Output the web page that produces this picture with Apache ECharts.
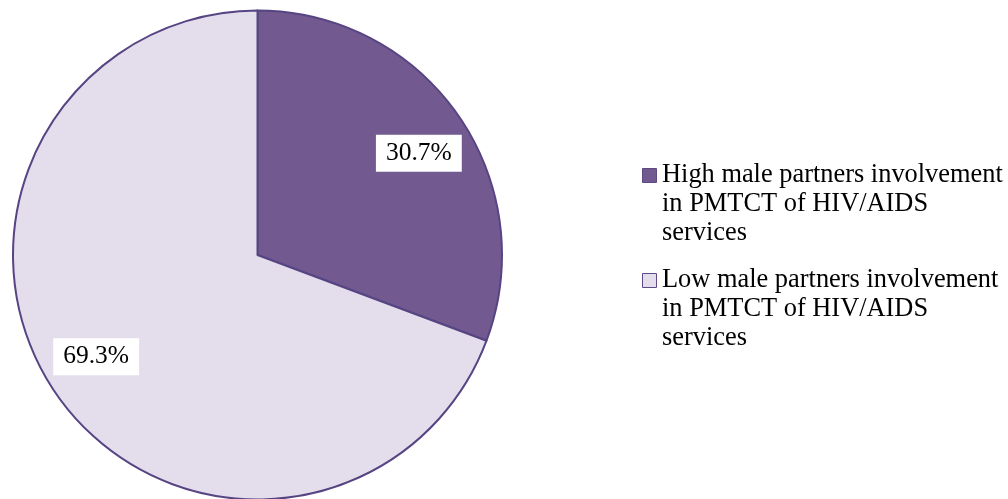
<!DOCTYPE html>
<html>
<head>
<meta charset="utf-8">
<script src="https://cdn.jsdelivr.net/npm/echarts@6/dist/echarts.min.js"></script>
<style>html,body{margin:0;padding:0;background:#fff}#c{width:1008px;height:499px}</style>
</head>
<body>
<div id="c"></div>
<script>
var categories = ['High male partners involvement in PMTCT of HIV/AIDS services', 'Low male partners involvement in PMTCT of HIV/AIDS services'];
var legendLines = [['High male partners involvement', 'in PMTCT of HIV/AIDS', 'services'], ['Low male partners involvement', 'in PMTCT of HIV/AIDS', 'services']];
var values = [30.7, 69.3];
var colors = ['#72598F', '#E4DEEC'];

var chart = echarts.init(document.getElementById('c'), null, {renderer: 'canvas'});
var data = categories.map(function (n, i) { return {name: n, value: values[i], itemStyle: {color: colors[i]}}; });
var labelData = categories.map(function (n, i) { return {name: n, value: values[i]}; });
var FONT = '"Liberation Serif", "Times New Roman", serif';

var legendGraphics = [];
categories.forEach(function (n, i) {
  legendGraphics.push({
    type: 'rect',
    left: 642, top: 168 + i * 105,
    shape: {width: 14, height: 14},
    style: {fill: colors[i], stroke: '#5E4A82', lineWidth: 1},
    silent: true
  });
  legendGraphics.push({
    type: 'text',
    left: 662, top: 161 + i * 105,
    style: {text: legendLines[i].join('\n'), font: '26.4px ' + FONT, lineHeight: 29, fill: '#000'},
    silent: true
  });
});

chart.setOption({
  animation: false,
  backgroundColor: '#ffffff',
  graphic: legendGraphics,
  series: [
    {
      type: 'pie',
      center: [257.5, 255],
      radius: [0, 244.5],
      startAngle: 90,
      clockwise: true,
      silent: true,
      label: {show: false},
      labelLine: {show: false},
      itemStyle: {borderColor: '#574483', borderWidth: 2},
      emphasis: {disabled: true},
      data: data
    },
    {
      type: 'pie',
      center: [257.5, 255],
      radius: [131, 244.5],
      startAngle: 87.5,
      clockwise: true,
      silent: true,
      itemStyle: {color: 'rgba(0,0,0,0)', borderWidth: 0},
      emphasis: {disabled: true},
      labelLine: {show: false},
      label: {
        show: true,
        position: 'inside',
        formatter: function (p) { return p.value.toFixed(1) + '%'; },
        fontFamily: FONT,
        fontSize: 25.5,
        lineHeight: 25,
        color: '#000',
        backgroundColor: '#ffffff',
        padding: [6, 10, 6, 10]
      },
      data: labelData
    }
  ]
});
</script>
</body>
</html>
